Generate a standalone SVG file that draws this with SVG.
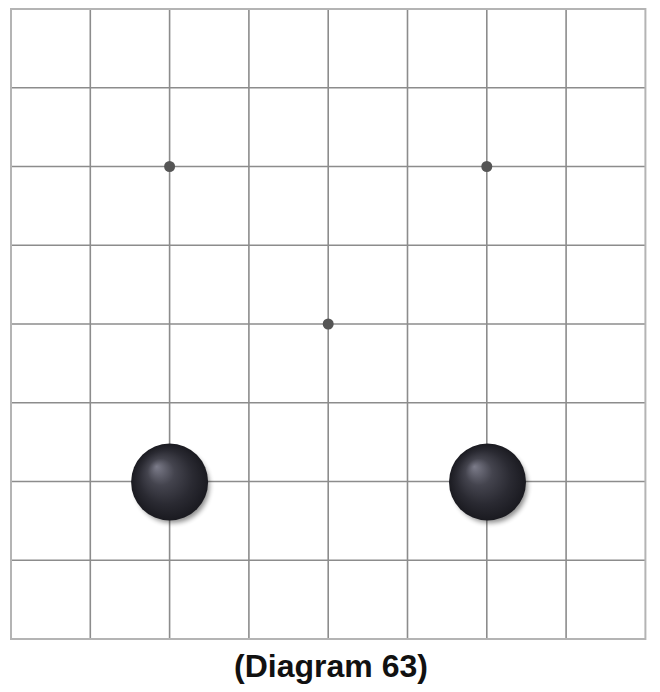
<svg xmlns="http://www.w3.org/2000/svg" width="660" height="692" viewBox="0 0 660 692">
  <style>
    .grid line { stroke: #8c8c8c; stroke-width: 1.6; }
    .border { fill: none; stroke: #b4b4b4; stroke-width: 2; }
    .hoshi { fill: #555; }
    .caption { font-family: "Liberation Sans", Arial, sans-serif; font-weight: bold; font-size: 32px; fill: #111; text-anchor: middle; }
  </style>
  <defs>
    <radialGradient id="stoneGrad" cx="0.5" cy="0.5" r="0.5" fx="0.33" fy="0.3">
      <stop offset="0" stop-color="#7c7c8a"/>
      <stop offset="0.35" stop-color="#44444e"/>
      <stop offset="0.7" stop-color="#2a2a32"/>
      <stop offset="1" stop-color="#1a1a20"/>
    </radialGradient>
    <filter id="shadow" x="-50%" y="-50%" width="200%" height="200%">
      <feGaussianBlur stdDeviation="2.5"/>
    </filter>
  </defs>
  <rect width="660" height="692" fill="#ffffff"/>
  <g id="board">
    <g class="grid">
      <line x1="90.3" y1="9" x2="90.3" y2="639"/>
      <line x1="169.6" y1="9" x2="169.6" y2="639"/>
      <line x1="248.9" y1="9" x2="248.9" y2="639"/>
      <line x1="328.2" y1="9" x2="328.2" y2="639"/>
      <line x1="407.5" y1="9" x2="407.5" y2="639"/>
      <line x1="486.8" y1="9" x2="486.8" y2="639"/>
      <line x1="566.1" y1="9" x2="566.1" y2="639"/>
      <line x1="11" y1="87.75" x2="645.4" y2="87.75"/>
      <line x1="11" y1="166.5" x2="645.4" y2="166.5"/>
      <line x1="11" y1="245.25" x2="645.4" y2="245.25"/>
      <line x1="11" y1="324" x2="645.4" y2="324"/>
      <line x1="11" y1="402.75" x2="645.4" y2="402.75"/>
      <line x1="11" y1="481.5" x2="645.4" y2="481.5"/>
      <line x1="11" y1="560.25" x2="645.4" y2="560.25"/>
    </g>
    <rect class="border" x="11" y="9" width="634.4" height="630"/>
  </g>
  <g id="hoshi">
    <circle class="hoshi" cx="169.6" cy="166.5" r="5.5"/>
    <circle class="hoshi" cx="486.8" cy="166.5" r="5.5"/>
    <circle class="hoshi" cx="328.2" cy="324" r="5.5"/>
  </g>
  <g id="stone1">
    <circle cx="172.5" cy="486" r="37" fill="#000" opacity="0.45" filter="url(#shadow)"/>
    <circle cx="169.6" cy="482" r="38.5" fill="url(#stoneGrad)"/>
  </g>
  <g id="stone2">
    <circle cx="490.5" cy="486" r="37" fill="#000" opacity="0.45" filter="url(#shadow)"/>
    <circle cx="487.5" cy="482" r="38.5" fill="url(#stoneGrad)"/>
  </g>
  <text class="caption" x="331" y="677">(Diagram 63)</text>
</svg>
